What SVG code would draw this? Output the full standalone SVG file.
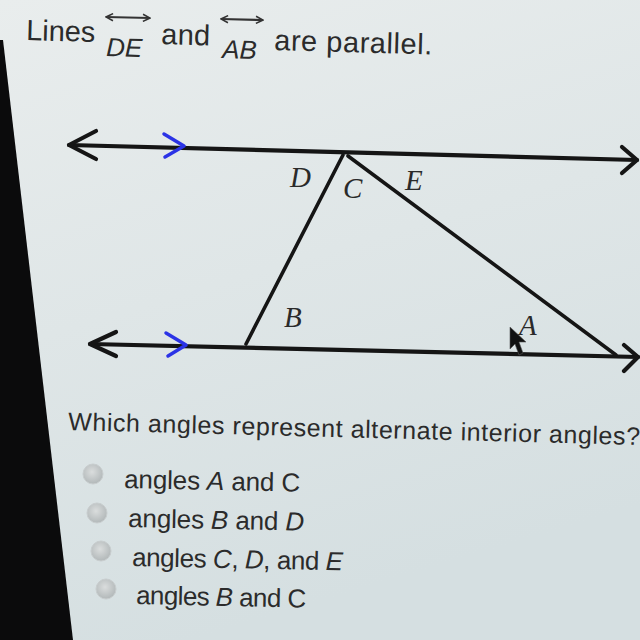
<svg xmlns="http://www.w3.org/2000/svg" width="640" height="640" viewBox="0 0 640 640">
<defs>
<linearGradient id="bg" x1="0" y1="0" x2="0.3" y2="1">
<stop offset="0" stop-color="#e9eded"/>
<stop offset="0.5" stop-color="#dfe6e7"/>
<stop offset="1" stop-color="#d5dfe1"/>
</linearGradient>
<radialGradient id="radio" cx="0.45" cy="0.4" r="0.6">
<stop offset="0" stop-color="#dadddd"/>
<stop offset="1" stop-color="#b2b8b9"/>
</radialGradient>
<marker id="oa" viewBox="0 0 10 10" refX="9" refY="5" markerWidth="4" markerHeight="4" orient="auto-start-reverse">
<path d="M1,1 L9,5 L1,9" fill="none" stroke="#333" stroke-width="1.8"/>
</marker>
</defs>
<style>
.t{font-family:"Liberation Sans",Arial,sans-serif;fill:#2b2b2b}
.i{font-style:italic}
.lbl{font-family:"Liberation Serif","Times New Roman",serif;font-style:italic;font-size:29px;fill:#2a2a2a}
.ln{stroke:#151515;stroke-width:4.2;fill:none;stroke-linecap:round;stroke-linejoin:round}
.seg{stroke:#151515;stroke-width:3.6;fill:none;stroke-linecap:round}
.bl{stroke:#2b33e6;stroke-width:3.5;fill:none;stroke-linecap:round;stroke-linejoin:round}
.rd{fill:url(#radio);stroke:#c8cdce;stroke-width:1}
.oa{stroke:#333;stroke-width:2.2;fill:none}
</style>
<rect width="640" height="640" fill="url(#bg)"/>
<polygon points="0,40 3,40 73,640 0,640" fill="#0b0b0c"/>
<g id="header" class="t" font-size="29">
<text x="26" y="40" textLength="69" transform="rotate(1.6 26 40)">Lines</text>
<g id="DE"><line class="oa" x1="106" y1="17" x2="150" y2="18" marker-start="url(#oa)" marker-end="url(#oa)"/><text class="i" x="106" y="56" font-size="26" transform="rotate(1.6 106 56)">DE</text></g>
<text x="161" y="44" textLength="49" transform="rotate(1.6 161 44)">and</text>
<g id="AB"><line class="oa" x1="221" y1="19" x2="263" y2="20" marker-start="url(#oa)" marker-end="url(#oa)"/><text class="i" x="222" y="58" font-size="26" transform="rotate(1.6 222 58)">AB</text></g>
<text x="274" y="50" textLength="158" transform="rotate(1.6 274 50)">are parallel.</text>
</g>
<g id="connectors">
<path class="ln" d="M69,145 L637,160"/>
<path class="ln" d="M96,131 L69,145 L96,159"/>
<path class="ln" d="M622,147 L637,160 L622,173"/>
<path class="bl" d="M164,134 L184,146 L165,157"/>
<path class="ln" d="M90,344 L638,357"/>
<path class="ln" d="M116,332 L90,344 L116,356"/>
<path class="ln" d="M624,345 L638,357 L624,371"/>
<path class="bl" d="M166,333 L186,345 L168,356"/>
<path class="seg" d="M343,155 L246,344"/>
<path class="seg" d="M348,156 L616,355"/>
</g>
<g id="label-D"><text class="lbl" x="290" y="187">D</text></g>
<g id="label-C"><text class="lbl" x="343" y="198">C</text></g>
<g id="label-E"><text class="lbl" x="405" y="190">E</text></g>
<g id="label-B"><text class="lbl" x="284" y="327" font-size="26">B</text></g>
<g id="label-A"><text class="lbl" x="519" y="335" font-size="26">A</text></g>
<polygon id="cursor" points="510,327 510,349 515,344 519,355 523,353 519,342 526,342" fill="#111" stroke="#555" stroke-width="0.6"/>
<g id="question" class="t" font-size="25">
<text x="68" y="430" textLength="572" transform="rotate(1.5 68 430)">Which angles represent alternate interior angles?</text>
</g>
<g id="opt1"><circle class="rd" cx="93" cy="474" r="10"/><text class="t" font-size="26" x="124" y="488" textLength="176" transform="rotate(1.2 124 488)">angles <tspan class="i">A</tspan> and C</text></g>
<g id="opt2"><circle class="rd" cx="97" cy="513" r="10"/><text class="t" font-size="26" x="128" y="527" textLength="176" transform="rotate(1.2 128 527)">angles <tspan class="i">B</tspan> and <tspan class="i">D</tspan></text></g>
<g id="opt3"><circle class="rd" cx="101" cy="551" r="10"/><text class="t" font-size="26" x="132" y="566" textLength="211" transform="rotate(1.2 132 566)">angles <tspan class="i">C</tspan>, <tspan class="i">D</tspan>, and <tspan class="i">E</tspan></text></g>
<g id="opt4"><circle class="rd" cx="106" cy="589" r="10"/><text class="t" font-size="26" x="136" y="604" textLength="170" transform="rotate(1.2 136 604)">angles <tspan class="i">B</tspan> and C</text></g>
</svg>
